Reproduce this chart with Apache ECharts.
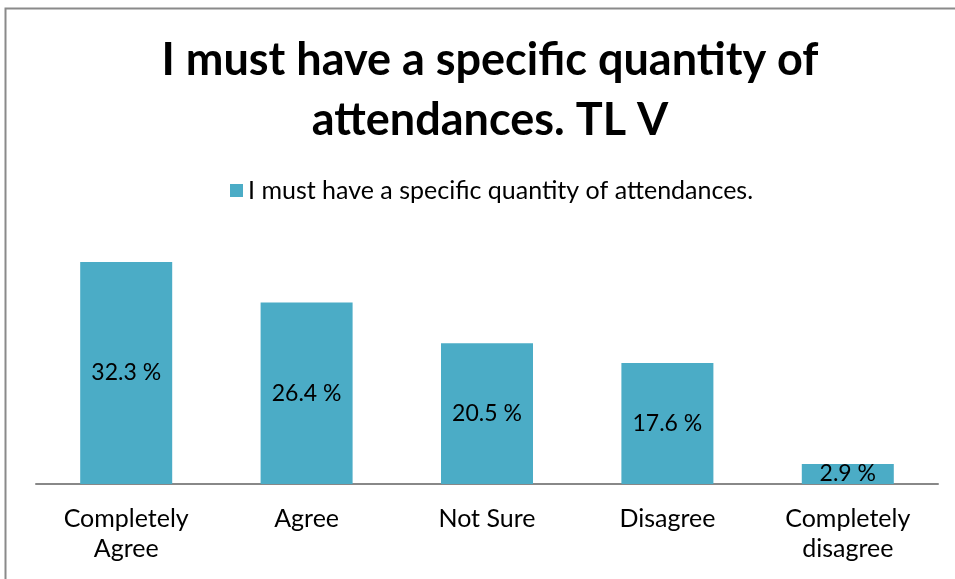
<!DOCTYPE html>
<html>
<head>
<meta charset="utf-8">
<script src="https://cdn.jsdelivr.net/npm/echarts@6/dist/echarts.min.js"></script>
<style>
html,body{margin:0;padding:0;background:#fff;}
#chart{width:955px;height:579px;}
</style>
</head>
<body>
<div id="chart"></div>
<script>
const categories = ['Completely\nAgree', 'Agree', 'Not Sure', 'Disagree', 'Completely\ndisagree'];
const seriesName = 'I must have a specific quantity of attendances.';
const values = [32.3, 26.4, 20.5, 17.6, 2.9];
const titleText = 'I must have a specific quantity of\nattendances. TL V';

const chart = echarts.init(document.getElementById('chart'));
chart.setOption({
  animation: false,
  backgroundColor: '#ffffff',
  graphic: [{
    type: 'rect',
    shape: {x: 5.5, y: 8.5, width: 1200, height: 1200},
    style: {fill: 'none', stroke: '#8a8a8a', lineWidth: 2},
    silent: true
  }],
  title: {
    text: titleText,
    left: 485,
    textAlign: 'center',
    top: 25,
    textStyle: {
      fontFamily: 'Lato',
      fontWeight: 'bold',
      fontSize: 45,
      lineHeight: 60,
      color: '#000'
    }
  },
  legend: {
    data: [seriesName],
    top: 173,
    left: 225,
    icon: 'rect',
    itemWidth: 13,
    itemHeight: 13,
    itemGap: 8,
    textStyle: {fontFamily: 'Lato', fontSize: 25, color: '#000'}
  },
  grid: {left: 36, right: 17, top: 243.5, bottom: 95, containLabel: false},
  xAxis: {
    type: 'category',
    data: categories,
    axisLine: {lineStyle: {color: '#888', width: 2}},
    axisTick: {show: false},
    axisLabel: {fontFamily: 'Lato', fontSize: 25, color: '#000', lineHeight: 30, margin: 20, interval: 0}
  },
  yAxis: {
    type: 'value',
    min: 0,
    max: 35,
    show: false,
    splitLine: {show: false}
  },
  series: [{
    name: seriesName,
    type: 'bar',
    data: values,
    barWidth: '51%',
    itemStyle: {color: '#4bacc6'},
    label: {
      show: true,
      position: 'inside',
      formatter: p => p.value.toFixed(1) + ' %',
      fontFamily: 'Lato',
      fontSize: 23,
      color: '#000'
    }
  }]
});
</script>
</body>
</html>
